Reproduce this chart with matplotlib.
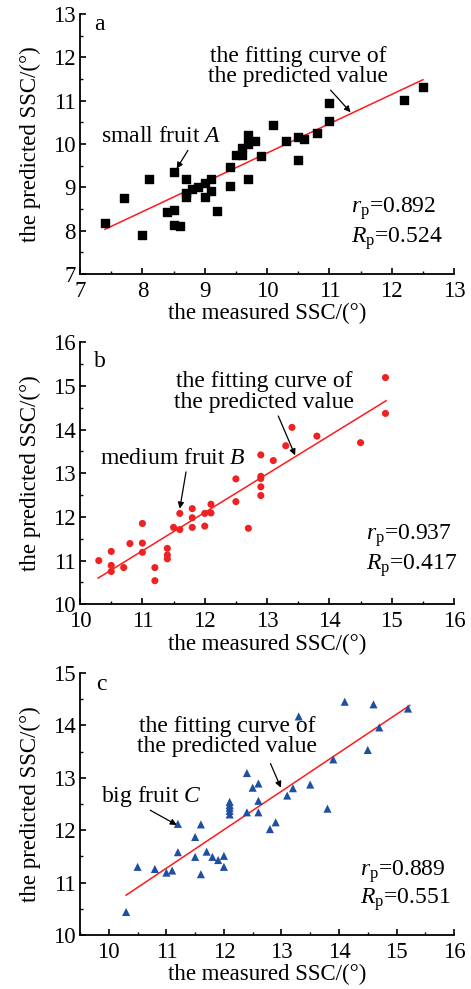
import matplotlib
matplotlib.use('Agg')
import matplotlib.pyplot as plt
from matplotlib.ticker import MultipleLocator

plt.rcParams['font.family'] = ['Liberation Serif', 'DejaVu Serif']
plt.rcParams['mathtext.fontset'] = 'custom'
plt.rcParams['mathtext.rm'] = 'Liberation Serif'
plt.rcParams['mathtext.it'] = 'Liberation Serif:italic'

# panel a: small fruit
a_measured = [7.4, 7.7, 8.0, 8.1, 8.4, 8.5, 8.5, 8.5, 8.6, 8.7, 8.7, 8.7, 8.8, 8.9,
              9.0, 9.0, 9.1, 9.1, 9.2, 9.4, 9.4, 9.5, 9.6, 9.6, 9.7, 9.7, 9.7, 9.8,
              9.9, 10.1, 10.3, 10.5, 10.5, 10.6, 10.8, 11.0, 11.0, 12.2, 12.5]
a_predicted = [8.18, 8.75, 7.89, 9.19, 8.42, 8.47, 9.35, 8.13, 8.11, 9.18, 8.86, 8.77, 8.95, 9.00,
               9.10, 8.77, 9.18, 8.92, 8.46, 9.47, 9.02, 9.75, 9.75, 9.90, 10.00, 10.20, 9.19, 10.06,
               9.72, 10.43, 10.06, 10.17, 9.64, 10.12, 10.25, 10.95, 10.52, 11.02, 11.32]
a_fit_x = [7.4, 12.5]
a_fit_y = [8.03, 11.48]

# panel b: medium fruit
b_measured = [10.3, 10.5, 10.5, 10.5, 10.7, 10.8, 11.0, 11.0, 11.0, 11.2, 11.2, 11.4, 11.4,
              11.4, 11.5, 11.6, 11.6, 11.8, 11.8, 11.8, 12.0, 12.0, 12.1, 12.1, 12.5, 12.5,
              12.7, 12.9, 12.9, 12.9, 12.9, 12.9, 13.1, 13.3, 13.4, 13.8, 14.5, 14.9, 14.9]
b_predicted = [11.00, 11.21, 10.89, 10.75, 10.84, 11.39, 11.85, 11.40, 11.19, 10.84, 10.54, 11.28, 11.13,
               11.04, 11.76, 12.08, 11.71, 12.19, 11.98, 11.76, 12.08, 11.79, 12.29, 12.09, 12.87, 12.35,
               11.74, 13.42, 12.93, 12.88, 12.69, 12.49, 13.29, 13.63, 14.05, 13.85, 13.70, 15.19, 14.37]
b_fit_x = [10.29, 14.91]
b_fit_y = [10.60, 14.66]

# panel c: big fruit
c_measured = [10.3, 10.5, 10.8, 11.0, 11.1, 11.2, 11.2, 11.5, 11.5, 11.6, 11.6, 11.7, 11.8,
              11.9, 12.0, 12.0, 12.1, 12.1, 12.1, 12.1, 12.1, 12.4, 12.4, 12.5, 12.6, 12.6,
              12.6, 12.8, 12.9, 13.1, 13.2, 13.3, 13.5, 13.8, 13.9, 14.1, 14.5, 14.6, 14.7, 15.2]
c_predicted = [10.44, 11.30, 11.26, 11.19, 11.23, 11.58, 12.12, 11.49, 11.87, 11.16, 12.11, 11.59, 11.49,
               11.43, 11.51, 11.30, 12.54, 12.48, 12.43, 12.37, 12.30, 13.09, 12.34, 12.81, 12.89, 12.56,
               12.34, 12.02, 12.15, 12.66, 12.80, 14.17, 12.87, 12.41, 13.35, 14.45, 13.53, 14.40, 13.96, 14.32]
c_fit_x = [10.30, 15.23]
c_fit_y = [10.76, 14.38]

FS = 17      # annotation text
LS = 16.5    # tick and axis labels


def style_axes(ax, xlim, ylim):
    ax.set_xlim(*xlim)
    ax.set_ylim(*ylim)
    ax.spines['top'].set_visible(False)
    ax.spines['right'].set_visible(False)
    for s in ('left', 'bottom'):
        ax.spines[s].set_linewidth(1.3)
    ax.xaxis.set_major_locator(MultipleLocator(1))
    ax.xaxis.set_minor_locator(MultipleLocator(0.5))
    ax.yaxis.set_major_locator(MultipleLocator(1))
    ax.yaxis.set_minor_locator(MultipleLocator(0.5))
    ax.tick_params(which='major', direction='in', length=4, width=1.2, labelsize=LS, pad=3)
    ax.tick_params(axis='x', which='major', pad=5)
    ax.tick_params(which='minor', direction='in', length=2, width=1.0)
    ax.set_xlabel('the measured SSC/(°)', fontsize=LS, labelpad=1)
    ax.set_ylabel('the predicted SSC/(°)', fontsize=LS, labelpad=9)


def arrow(ax, tail, head):
    ax.annotate('', xy=head, xytext=tail,
                arrowprops=dict(arrowstyle='-|>', color='black', lw=0.9,
                                mutation_scale=9, shrinkA=0, shrinkB=0))


fig = plt.figure(figsize=(4.71, 9.89), dpi=100)
ax_a = fig.add_axes([0.170, 0.723, 0.794, 0.263])
ax_b = fig.add_axes([0.170, 0.389, 0.794, 0.265])
ax_c = fig.add_axes([0.170, 0.0546, 0.794, 0.265])

# a
ax = ax_a
style_axes(ax, (7, 13), (7, 13))
ax.scatter(a_measured, a_predicted, marker='s', s=26, color='black', zorder=3)
ax.plot(a_fit_x, a_fit_y, color='#ff1a1a', lw=1.1, zorder=2)
ax.text(7.22, 12.75, 'a', fontsize=FS, va='center')
ax.text(10.5, 11.78, 'the fitting curve of\nthe predicted value', fontsize=FS,
        ha='center', va='center', linespacing=0.95)
arrow(ax, (11.02, 11.24), (11.34, 10.73))
ax.text(7.33, 10.16, 'small fruit $\\mathit{A}$', fontsize=FS, va='center')
arrow(ax, (8.73, 9.85), (8.55, 9.43))
ax.text(11.35, 8.5, '$r_{\\rm p}$=0.892', fontsize=FS, va='center')
ax.text(11.35, 7.82, '$R_{\\rm p}$=0.524', fontsize=FS, va='center')

# b
ax = ax_b
style_axes(ax, (10, 16), (10, 16))
ax.scatter(b_measured, b_predicted, marker='o', s=26, color='#ee2222', edgecolors='none', zorder=3)
ax.plot(b_fit_x, b_fit_y, color='#ff1a1a', lw=1.1, zorder=2)
ax.text(10.22, 15.55, 'b', fontsize=FS, va='center')
ax.text(12.95, 14.86, 'the fitting curve of\nthe predicted value', fontsize=FS,
        ha='center', va='center', linespacing=0.95)
arrow(ax, (13.18, 14.31), (13.45, 13.41))
ax.text(10.32, 13.34, 'medium fruit $\\mathit{B}$', fontsize=FS, va='center')
arrow(ax, (11.70, 13.03), (11.60, 12.19))
ax.text(14.58, 11.58, '$r_{\\rm p}$=0.937', fontsize=FS, va='center')
ax.text(14.58, 10.89, '$R_{\\rm p}$=0.417', fontsize=FS, va='center')

# c
ax = ax_c
style_axes(ax, (9.5, 16), (10, 15))
ax.scatter(c_measured, c_predicted, marker='^', s=34, color='#1f4fa0', edgecolors='none', zorder=3)
ax.plot(c_fit_x, c_fit_y, color='#ff1a1a', lw=1.1, zorder=2)
ax.text(9.78, 14.78, 'c', fontsize=FS, va='center')
ax.text(12.06, 13.78, 'the fitting curve of\nthe predicted value', fontsize=FS,
        ha='center', va='center', linespacing=0.95)
arrow(ax, (12.81, 13.27), (12.99, 12.81))
ax.text(9.87, 12.64, 'big fruit $\\mathit{C}$', fontsize=FS, va='center')
arrow(ax, (10.72, 12.38), (11.18, 12.10))
ax.text(14.37, 11.21, '$r_{\\rm p}$=0.889', fontsize=FS, va='center')
ax.text(14.37, 10.67, '$R_{\\rm p}$=0.551', fontsize=FS, va='center')

fig.savefig('out.png', dpi=100)
